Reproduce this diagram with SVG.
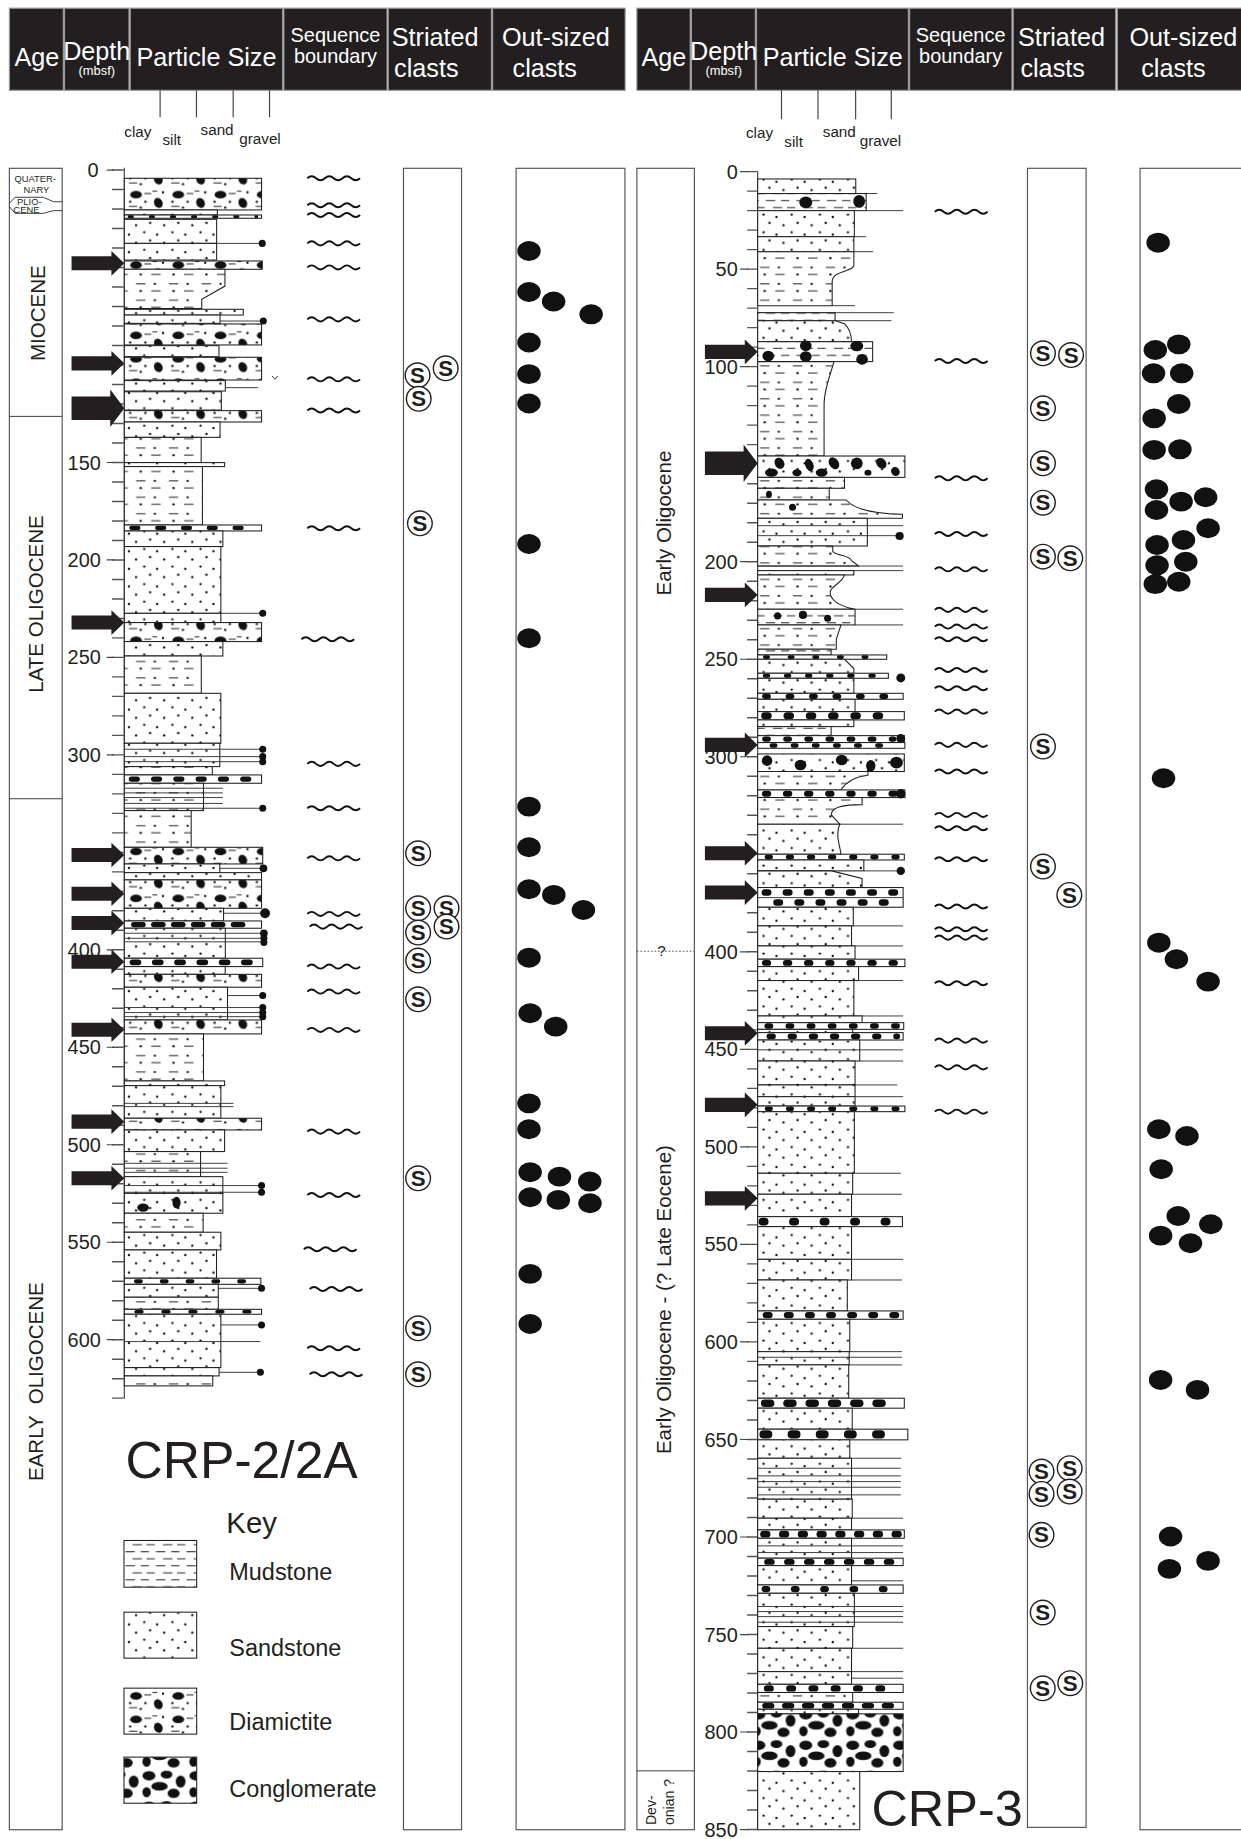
<svg xmlns="http://www.w3.org/2000/svg" xmlns:xlink="http://www.w3.org/1999/xlink" width="1241" height="1839" viewBox="0 0 1241 1839">
<style>
text{font-family:"Liberation Sans",Arial,sans-serif;fill:#231f20}
.hd{fill:#231f20;stroke:#9a9a9a;stroke-width:1}
.ht{fill:#fff;font-size:21.5px}
.hs{fill:#fff;font-size:17px}
.hm{fill:#fff;font-size:11px}
.mid{text-anchor:middle}
.end{text-anchor:end}
.box{fill:none;stroke:#555;stroke-width:1}
.bd{stroke:#231f20;stroke-width:0.9}
.S{fill:url(#sand)}.M{fill:url(#mud)}.MS{fill:url(#ms)}.D{fill:url(#diam)}.C{fill:url(#cong)}.W{fill:#fff}
.gv{stroke:#111;stroke-linecap:round;fill:none;stroke-dasharray:3 15}
.ln{stroke:#333;stroke-width:0.8;fill:none}
.dot{fill:#111}
.sc{fill:#fff;stroke:#231f20;stroke-width:1.2}
.st{font-size:19px;font-weight:bold;text-anchor:middle}
.oc{fill:#111}
.dl{font-size:17px;text-anchor:end}
.tk{stroke:#444;fill:none}
.age{font-size:17.5px;text-anchor:middle}
</style>
<defs>
<pattern id="sand" patternUnits="userSpaceOnUse" width="24" height="15">
<rect width="24" height="15" fill="#fff"/>
<g fill="#111"><circle cx="3" cy="3" r="1"/><circle cx="14" cy="5" r="1"/><circle cx="8" cy="10" r="1"/><circle cx="20" cy="12" r="1"/></g>
</pattern>
<pattern id="mud" patternUnits="userSpaceOnUse" width="26" height="12">
<rect width="26" height="12" fill="#fff"/>
<path d="M3 3h8M16 3h7M9 9h8M21 9h5M0 9h2" stroke="#111" stroke-width="0.8"/>
</pattern>
<pattern id="ms" patternUnits="userSpaceOnUse" width="28" height="14">
<rect width="28" height="14" fill="#fff"/>
<path d="M4 4h8M17 10h8" stroke="#111" stroke-width="0.8"/>
<g fill="#111"><circle cx="20" cy="4" r="1"/><circle cx="8" cy="10" r="1"/></g>
</pattern>
<pattern id="diam" patternUnits="userSpaceOnUse" width="36" height="20">
<rect width="36" height="20" fill="#fff"/>
<g fill="#111"><ellipse cx="8" cy="6" rx="5" ry="3.2"/><ellipse cx="27" cy="13" rx="3.6" ry="4.4" transform="rotate(-25 27 13)"/>
<circle cx="31" cy="4" r="1"/><circle cx="16" cy="12" r="1"/><circle cx="12" cy="17" r="1"/><circle cx="3" cy="12" r="1"/></g>
<path d="M15 5h6M2 16h7M22 3h4" stroke="#111" stroke-width="0.8"/>
</pattern>
<pattern id="cong" patternUnits="userSpaceOnUse" width="40" height="26">
<rect width="40" height="26" fill="#fff"/>
<g fill="#111"><ellipse cx="7" cy="6" rx="5.5" ry="4"/><ellipse cx="22" cy="5" rx="5" ry="3.4"/><ellipse cx="34" cy="11" rx="4.2" ry="5.2"/><ellipse cx="16" cy="15" rx="7" ry="3.6"/><ellipse cx="28" cy="21" rx="5.2" ry="4"/><ellipse cx="5" cy="20" rx="3.6" ry="4.3"/></g>
</pattern>
<path id="wv" d="M0,0 q3.75,-3.5 7.5,0 t7.5,0 t7.5,0 t7.5,0 t7.5,0 t7.5,0" fill="none" stroke="#111" stroke-width="1.6"/>
<path id="arS" d="M0,-6H34V-10.5L45,0L34,10.5V6H0Z" fill="#231f20"/>
<path id="arB" d="M0,-10H33V-16L45,0L33,16V10H0Z" fill="#231f20"/>
</defs>
<rect width="1241" height="1839" fill="#fff"/>
<g transform="scale(1.1729)">

<g id="header-left">
<rect class="hd" x="8" y="7" width="46" height="70"/>
<rect class="hd" x="55" y="7" width="55" height="70"/>
<rect class="hd" x="111" y="7" width="130" height="70"/>
<rect class="hd" x="242" y="7" width="88" height="70"/>
<rect class="hd" x="331" y="7" width="88" height="70"/>
<rect class="hd" x="420" y="7" width="113" height="70"/>
<text class="ht mid" x="31.5" y="56">Age</text>
<text class="ht mid" x="82.5" y="51">Depth</text>
<text class="hm mid" x="82.5" y="64">(mbsf)</text>
<text class="ht mid" x="176" y="56">Particle Size</text>
<text class="hs mid" x="286" y="36">Sequence</text>
<text class="hs mid" x="286" y="54">boundary</text>
<text class="ht" x="334" y="39">Striated</text>
<text class="ht" x="336" y="66">clasts</text>
<text class="ht" x="428" y="39">Out-sized</text>
<text class="ht" x="437" y="66">clasts</text>
<path class="tk" d="M136.5 77V100M167.5 77V100M198.8 77V100M229.8 77V100"/>
<g font-size="13"><text x="106" y="116.5">clay</text><text x="138.5" y="123.6">silt</text><text x="171" y="115">sand</text><text x="204" y="122.8">gravel</text></g>
</g>

<g id="header-right">
<rect class="hd" x="543" y="7" width="45.5" height="70"/>
<rect class="hd" x="589.5" y="7" width="54.5" height="70"/>
<rect class="hd" x="645" y="7" width="129.5" height="70"/>
<rect class="hd" x="775.5" y="7" width="87.3" height="70"/>
<rect class="hd" x="863.8" y="7" width="87.5" height="70"/>
<rect class="hd" x="952.6" y="7" width="110" height="70"/>
<text class="ht mid" x="566" y="56">Age</text>
<text class="ht mid" x="617" y="51">Depth</text>
<text class="hm mid" x="617" y="64">(mbsf)</text>
<text class="ht mid" x="710" y="56">Particle Size</text>
<text class="hs mid" x="819" y="36">Sequence</text>
<text class="hs mid" x="819" y="54">boundary</text>
<text class="ht" x="868" y="39">Striated</text>
<text class="ht" x="870" y="66">clasts</text>
<text class="ht" x="963" y="39">Out-sized</text>
<text class="ht" x="973" y="66">clasts</text>
<path class="tk" d="M666.3 77V101.7M697.4 77V101.7M729.5 77V101.7M759.9 77V101.7"/>
<g font-size="13"><text x="636" y="118">clay</text><text x="668.7" y="125">silt</text><text x="701.5" y="116.5">sand</text><text x="733" y="124.5">gravel</text></g>
</g>

<g id="age-left">
<rect class="box" x="8" y="143.5" width="45" height="1416.5"/>
<path class="ln" d="M8,173.5L12.8,168.2H37L45.5,172H53M8,176L12.8,181.9H37L45.5,179.6H53M8,355H53M8,681H53"/>
<g font-size="8" text-anchor="middle"><text x="30" y="155">QUATER-</text><text x="31" y="164.3">NARY</text><text x="25" y="174.6">PLIO-</text><text x="22.5" y="181.5">CENE</text></g>
<text class="age" transform="translate(38,267) rotate(-90)">MIOCENE</text>
<text class="age" transform="translate(37,515) rotate(-90)">LATE OLIGOCENE</text>
<text class="age" transform="translate(37,1178) rotate(-90)" xml:space="preserve">EARLY  OLIGOCENE</text>
</g>

<g id="depth-left">
<line x1="106" y1="143" x2="106" y2="1192.5" stroke="#444" stroke-width="1"/>
<line x1="100.5" y1="144.4" x2="100.5" y2="1193" stroke="#555" stroke-width="10" stroke-dasharray="1.2 15.42"/>
<path class="tk" d="M91 145h6M91 394.3h6M91 477.4h6M91 560.5h6M91 643.6h6M91 809.8h6M91 892.9h6M91 976h6M91 1059.1h6M91 1142.2h6"/>
<text class="dl" x="84" y="151">0</text>
<text class="dl" x="86" y="400.3">150</text>
<text class="dl" x="86" y="483.4">200</text>
<text class="dl" x="86" y="566.5">250</text>
<text class="dl" x="86" y="649.6">300</text>
<text class="dl" x="86" y="815.8">400</text>
<text class="dl" x="86" y="898.9">450</text>
<text class="dl" x="86" y="982">500</text>
<text class="dl" x="86" y="1065.1">550</text>
<text class="dl" x="86" y="1148.2">600</text>
</g>

<g id="log-left">
<rect class="bd D" x="106" y="152" width="117" height="27"/>
<rect class="bd S" x="106" y="179" width="79.3" height="4.3"/>
<rect class="bd W" x="106" y="183.3" width="117" height="2.8"/><line class="gv" x1="110" y1="184.7" x2="219" y2="184.7" stroke-width="2.2"/>
<rect class="bd S" x="106" y="187" width="78.7" height="20.5"/>
<rect class="bd S" x="106" y="207.5" width="78.7" height="14.2"/>
<path class="ln" d="M184.7 207.5H223.6"/><circle class="dot" cx="223.6" cy="207.5" r="3"/>
<rect class="bd D" x="106" y="222.5" width="117.6" height="7.1"/>
<path class="bd MS" d="M106,229.6H191.8V243.9L172,255.2V263H106Z"/>
<rect class="bd S" x="106" y="263.7" width="101.4" height="4.9"/>
<rect class="bd S" x="106" y="268.6" width="81.6" height="7.1"/>
<path class="ln" d="M187.6 273.7H224.5"/><circle class="dot" cx="224.5" cy="273.7" r="3"/>
<rect class="bd D" x="106" y="276.2" width="117" height="17.9"/>
<rect class="bd S" x="106" y="294.7" width="80.7" height="9.4"/>
<rect class="bd D" x="106" y="304.6" width="117" height="19.4"/>
<rect class="bd S" x="106" y="324.5" width="86.1" height="8.9"/>
<path class="ln" d="M192.1 330.5H220M232 320.5l2.4 3 2.4-3"/>
<rect class="bd S" x="106" y="334" width="82.7" height="15.6"/>
<rect class="bd D" x="106" y="350.1" width="117" height="9.7"/>
<rect class="bd S" x="106" y="359.8" width="81.6" height="13.1"/>
<rect class="bd MS" x="106" y="372.9" width="65.5" height="21.5"/>
<rect class="bd S" x="106" y="394.4" width="85.5" height="3.4"/>
<rect class="bd MS" x="106" y="397.8" width="66.6" height="49.8"/>
<rect class="bd W" x="106" y="447.6" width="117" height="5.1"/><line class="gv" x1="112" y1="450.15" x2="218" y2="450.15" stroke-width="3.6" style="stroke-dasharray:6 16"/>
<rect class="bd S" x="106" y="452.7" width="84" height="13.3"/>
<rect class="bd S" x="106" y="466" width="82.3" height="56.9"/>
<path class="ln" d="M188.3 522.9H224"/><circle class="dot" cx="224" cy="522.9" r="3"/>
<rect class="bd S" x="106" y="522.9" width="82.3" height="7.9"/>
<rect class="bd D" x="106" y="530.8" width="117" height="16.2"/>
<rect class="bd S" x="106" y="547" width="84" height="12.3"/>
<rect class="bd MS" x="106" y="559.3" width="65.6" height="31.8"/>
<rect class="bd S" x="106" y="591.1" width="82.3" height="42.6"/>
<rect class="bd S" x="106" y="633.7" width="81.4" height="19.9"/>
<path class="ln" d="M106 638.8H224M106 645.1H224M106 649.4H224"/>
<circle class="dot" cx="224" cy="638.8" r="3"/><circle class="dot" cx="224" cy="645.1" r="3"/><circle class="dot" cx="224" cy="649.4" r="3"/>
<rect class="bd MS" x="106" y="653.6" width="75" height="7.1"/>
<rect class="bd W" x="106" y="660.7" width="117" height="7.1"/><line class="gv" x1="112" y1="664.25" x2="218" y2="664.25" stroke-width="4.5" style="stroke-dasharray:5 14"/>
<rect class="bd MS" x="106" y="667.8" width="67.5" height="23.3"/>
<path class="ln" d="M106 672H190M106 676H190M106 680H190M106 685H190M106 689.1H224"/><circle class="dot" cx="224" cy="689.1" r="3"/>
<rect class="bd MS" x="106" y="691.1" width="57" height="31.3"/>
<rect class="bd D" x="106" y="722.4" width="118" height="14.2"/>
<rect class="bd S" x="106" y="736.6" width="81.4" height="7.4"/>
<path class="ln" d="M187.4 740.3H224.6"/><circle class="dot" cx="224.6" cy="740.3" r="3.3"/>
<rect class="bd S" x="106" y="744" width="117" height="6.2"/>
<rect class="bd D" x="106" y="750.2" width="117" height="24.2"/>
<rect class="bd S" x="106" y="774.4" width="84.6" height="10.8"/>
<path class="ln" d="M190.6 778.6H226"/><circle class="dot" cx="226" cy="778.6" r="4.2"/>
<rect class="bd W" x="106" y="785.2" width="117" height="6.2"/><line class="gv" x1="114" y1="788.3" x2="216" y2="788.3" stroke-width="4.5" style="stroke-dasharray:8 9"/>
<rect class="bd S" x="106" y="791.4" width="86.1" height="25.6"/>
<path class="ln" d="M106 795.7H225M106 800H225M106 803H225"/>
<circle class="dot" cx="225" cy="795.7" r="3.3"/><circle class="dot" cx="225" cy="800" r="3"/><circle class="dot" cx="225" cy="803.5" r="3"/>
<rect class="bd W" x="106" y="817" width="118" height="7.1"/><line class="gv" x1="113" y1="820.5" x2="218" y2="820.5" stroke-width="5" style="stroke-dasharray:5 14"/>
<rect class="bd S" x="106" y="824.1" width="86" height="6.6"/>
<rect class="bd D" x="106" y="830.7" width="117" height="11"/>
<rect class="bd S" x="106" y="841.7" width="88" height="27.9"/>
<path class="ln" d="M194 848.8H224M106 859H224M106 863.3H224M106 866.8H224"/>
<circle class="dot" cx="224" cy="848.8" r="3"/><circle class="dot" cx="224" cy="859" r="3"/><circle class="dot" cx="224" cy="863.3" r="3"/><circle class="dot" cx="224" cy="866.8" r="3"/>
<rect class="bd D" x="106" y="869.6" width="117" height="11.9"/>
<rect class="bd MS" x="106" y="881.5" width="67.5" height="40.1"/>
<rect class="bd S" x="106" y="921.6" width="85.5" height="4"/>
<rect class="bd S" x="106" y="925.6" width="82.3" height="27.8"/>
<path class="ln" d="M106 940.7H199M106 943.5H199"/>
<rect class="bd D" x="106" y="953.4" width="117" height="10"/>
<rect class="bd S" x="106" y="963.4" width="85.5" height="18.4"/>
<rect class="bd MS" x="106" y="981.8" width="65" height="21.4"/>
<path class="ln" d="M106 991.8H194M106 996H194M106 999.5H194"/>
<rect class="bd S" x="106" y="1003.2" width="84" height="14.2"/>
<path class="ln" d="M106 1010.8H223M106 1016.5H223"/><circle class="dot" cx="223" cy="1010.8" r="3"/><circle class="dot" cx="223" cy="1016.5" r="3"/>
<rect class="bd S" x="106" y="1017.4" width="84" height="17"/>
<ellipse class="oc" cx="122" cy="1029.6" rx="5" ry="3.5"/><ellipse class="oc" cx="150.5" cy="1025.3" rx="3.5" ry="5"/>
<rect class="bd MS" x="106" y="1034.4" width="67.2" height="16.2"/>
<rect class="bd S" x="106" y="1050.6" width="82.3" height="15.1"/>
<rect class="bd S" x="106" y="1065.7" width="78.6" height="24.1"/>
<rect class="bd W" x="106" y="1089.8" width="116.4" height="5.2"/><line class="gv" x1="116" y1="1092.4" x2="216" y2="1092.4" stroke-width="3.6" style="stroke-dasharray:4 18"/>
<rect class="bd S" x="106" y="1095" width="80.1" height="11"/>
<path class="ln" d="M186.1 1098.4H223"/><circle class="dot" cx="223" cy="1098.4" r="3"/>
<rect class="bd MS" x="106" y="1106" width="80.1" height="10.3"/>
<rect class="bd W" x="106" y="1116.3" width="117" height="4.2"/><line class="gv" x1="116" y1="1118.4" x2="216" y2="1118.4" stroke-width="3" style="stroke-dasharray:5 18"/>
<rect class="bd S" x="106" y="1120.5" width="82.3" height="45.5"/>
<path class="ln" d="M188.3 1129.6H223M106 1143.8H222"/><circle class="dot" cx="223" cy="1129.6" r="3"/>
<rect class="bd S" x="106" y="1166" width="80.8" height="7.1"/>
<path class="ln" d="M186.8 1170H222"/><circle class="dot" cx="222" cy="1170" r="3"/>
<rect class="bd MS" x="106" y="1173.1" width="75.4" height="8.5"/>
</g>

<g id="seq-left">
<use href="#wv" x="262" y="152"/><use href="#wv" x="262" y="175"/><use href="#wv" x="262" y="183.3"/>
<use href="#wv" x="262" y="207.5"/><use href="#wv" x="262" y="228"/><use href="#wv" x="262" y="272.3"/>
<use href="#wv" x="262" y="323.4"/><use href="#wv" x="262" y="350"/><use href="#wv" x="262" y="450.4"/>
<use href="#wv" x="257" y="545"/><use href="#wv" x="262" y="651.3"/><use href="#wv" x="262" y="689.1"/>
<use href="#wv" x="262" y="731.8"/><use href="#wv" x="262" y="779.2"/><use href="#wv" x="264" y="790"/>
<use href="#wv" x="262" y="824.1"/><use href="#wv" x="262" y="845.4"/><use href="#wv" x="262" y="878.1"/>
<use href="#wv" x="262" y="964.8"/><use href="#wv" x="262" y="1018.8"/><use href="#wv" x="259" y="1065.1"/>
<use href="#wv" x="264" y="1099"/><use href="#wv" x="262" y="1149.5"/><use href="#wv" x="264" y="1171.7"/>
</g>

<g id="striated-left">
<rect class="box" x="344" y="143.5" width="49.5" height="1416.5"/>
<circle class="sc" cx="380" cy="314" r="10.5"/><text class="st" x="380" y="320.5">S</text>
<circle class="sc" cx="356" cy="320" r="10.5"/><text class="st" x="356" y="326.5">S</text>
<circle class="sc" cx="357" cy="340" r="10.5"/><text class="st" x="357" y="346.5">S</text>
<circle class="sc" cx="358" cy="446.2" r="10.5"/><text class="st" x="358" y="452.7">S</text>
<circle class="sc" cx="356.5" cy="727.5" r="10.5"/><text class="st" x="356.5" y="734">S</text>
<circle class="sc" cx="380.7" cy="774.4" r="10.5"/><text class="st" x="380.7" y="780.9">S</text>
<circle class="sc" cx="356.5" cy="774.4" r="10.5"/><text class="st" x="356.5" y="780.9">S</text>
<circle class="sc" cx="380.7" cy="790" r="10.5"/><text class="st" x="380.7" y="796.5">S</text>
<circle class="sc" cx="356.5" cy="795.1" r="10.5"/><text class="st" x="356.5" y="801.6">S</text>
<circle class="sc" cx="356.5" cy="819" r="10.5"/><text class="st" x="356.5" y="825.5">S</text>
<circle class="sc" cx="356.5" cy="852" r="10.5"/><text class="st" x="356.5" y="858.5">S</text>
<circle class="sc" cx="356.5" cy="1004.6" r="10.5"/><text class="st" x="356.5" y="1011.1">S</text>
<circle class="sc" cx="356.5" cy="1132.5" r="10.5"/><text class="st" x="356.5" y="1139">S</text>
<circle class="sc" cx="356.5" cy="1171.7" r="10.5"/><text class="st" x="356.5" y="1178.2">S</text>
</g>

<g id="outsized-left">
<rect class="box" x="440" y="143.5" width="92.8" height="1416.5"/>
<g class="oc">
<ellipse cx="451" cy="214" rx="10" ry="8.5"/><ellipse cx="451" cy="249" rx="10" ry="8.5"/><ellipse cx="472" cy="257" rx="10" ry="8.5"/><ellipse cx="504" cy="268" rx="10" ry="8.5"/>
<ellipse cx="451" cy="292" rx="10" ry="8.5"/><ellipse cx="451" cy="319" rx="10" ry="8.5"/><ellipse cx="451" cy="344" rx="10" ry="8.5"/>
<ellipse cx="451" cy="463.8" rx="10" ry="8.5"/><ellipse cx="451" cy="544.2" rx="10" ry="8.5"/><ellipse cx="451" cy="687.7" rx="10" ry="8.5"/>
<ellipse cx="451" cy="722.4" rx="10" ry="8.5"/><ellipse cx="451" cy="758.2" rx="10" ry="8.5"/><ellipse cx="472.2" cy="763" rx="10" ry="8.5"/>
<ellipse cx="497.4" cy="775.8" rx="10" ry="8.5"/><ellipse cx="451" cy="816.5" rx="10" ry="8.5"/><ellipse cx="452" cy="863.9" rx="10" ry="8.5"/>
<ellipse cx="473.8" cy="875.3" rx="10" ry="8.5"/><ellipse cx="451" cy="940.7" rx="10" ry="8.5"/><ellipse cx="451" cy="962.8" rx="10" ry="8.5"/>
<ellipse cx="452" cy="999.5" rx="10" ry="8.5"/><ellipse cx="477" cy="1003.2" rx="10" ry="8.5"/><ellipse cx="502.8" cy="1007.4" rx="10" ry="8.5"/>
<ellipse cx="452" cy="1020.8" rx="10" ry="8.5"/><ellipse cx="476" cy="1023" rx="10" ry="8.5"/><ellipse cx="503" cy="1025.9" rx="10" ry="8.5"/>
<ellipse cx="452" cy="1086.1" rx="10" ry="8.5"/><ellipse cx="452" cy="1128.8" rx="10" ry="8.5"/>
</g>
</g>

<g id="key">
<text x="107" y="1260" font-size="44">CRP-2/2A</text>
<text x="193" y="1307" font-size="25">Key</text>
<rect class="bd M" x="105.7" y="1313.4" width="62" height="39.8"/>
<text x="195.5" y="1347" font-size="20">Mudstone</text>
<rect class="bd S" x="105.7" y="1374.5" width="62" height="39.2"/>
<text x="195.5" y="1412.3" font-size="20">Sandstone</text>
<rect class="bd D" x="105.7" y="1439.3" width="62" height="39.2"/>
<text x="195.5" y="1474.9" font-size="20">Diamictite</text>
<rect class="bd C" x="105.7" y="1498.1" width="62" height="39.3"/>
<text x="195.5" y="1531.7" font-size="20">Conglomerate</text>
</g>

<g id="age-right">
<rect class="box" x="543" y="143.5" width="49" height="1416.5"/>
<path class="ln" d="M543 1509.8H592"/>
<path d="M543 811H592" stroke="#555" stroke-width="0.8" stroke-dasharray="1.5 1.5"/>
<text x="564" y="815.5" font-size="13" text-anchor="middle">?</text>
<text class="age" transform="translate(572,446) rotate(-90)">Early Oligocene</text>
<text class="age" transform="translate(572,1108) rotate(-90)">Early Oligocene - (? Late Eocene)</text>
<text font-size="12" transform="translate(559.5,1556) rotate(-90)">Dev-</text>
<text font-size="12" transform="translate(574.5,1556) rotate(-90)">onian ?</text>
</g>

<g id="depth-right">
<line x1="646" y1="146" x2="646" y2="1560" stroke="#444" stroke-width="1"/>
<line x1="641.5" y1="145.7" x2="641.5" y2="1561" stroke="#555" stroke-width="9" stroke-dasharray="1.2 15.43"/>
<path class="tk" d="M631 146.3h7M631 229.5h7M631 312.6h7M631 395.8h7M631 478.9h7M631 562.1h7M631 645.2h7M631 811.5h7M631 894.7h7M631 977.8h7M631 1061h7M631 1144.1h7M631 1227.3h7M631 1310.4h7M631 1393.6h7M631 1476.7h7M631 1559.9h7"/>
<text class="dl" x="629" y="152.3">0</text>
<text class="dl" x="629" y="235.5">50</text>
<text class="dl" x="629" y="318.6">100</text>
<text class="dl" x="629" y="401.8">150</text>
<text class="dl" x="629" y="484.9">200</text>
<text class="dl" x="629" y="568.1">250</text>
<text class="dl" x="629" y="651.2">300</text>
<text class="dl" x="629" y="817.5">400</text>
<text class="dl" x="629" y="900.7">450</text>
<text class="dl" x="629" y="983.8">500</text>
<text class="dl" x="629" y="1067">550</text>
<text class="dl" x="629" y="1150.1">600</text>
<text class="dl" x="629" y="1233.3">650</text>
<text class="dl" x="629" y="1316.4">700</text>
<text class="dl" x="629" y="1399.6">750</text>
<text class="dl" x="629" y="1482.7">800</text>
<text class="dl" x="629" y="1565.9">850</text>
</g>

<g id="log-right">
<rect class="bd S" x="646" y="152.6" width="83.6" height="12.4"/>
<path class="ln" d="M729.6 165H748"/>
<rect class="bd M" x="646" y="165" width="92.5" height="14.6"/>
<ellipse class="oc" cx="687" cy="172.5" rx="5.5" ry="5"/><ellipse class="oc" cx="732.5" cy="171.7" rx="5" ry="5.5"/>
<path class="ln" d="M738.5 179.6H770"/>
<rect class="bd S" x="646" y="179.6" width="82.4" height="22.2"/>
<path class="ln" d="M728.4 201.8H738.5"/>
<rect class="bd S" x="646" y="201.8" width="82" height="12.8"/>
<path class="ln" d="M728 214.6H744.5"/>
<path class="bd MS" d="M646,214.6H728V226C728,232 710,230 709.5,240V260.6H646Z"/>
<path class="ln" d="M709.5 260.6H729M646 266.6H762M646 273.4H760"/>
<rect class="bd M" x="646" y="266.6" width="66" height="6.8"/>
<path class="bd S" d="M646,273.4H712L720,276C724,280 726,285 726,291.3H646Z"/>
<rect class="bd M" x="646" y="291.3" width="98" height="17"/>
<g class="oc"><ellipse cx="655" cy="303.5" rx="5" ry="4.5"/><ellipse cx="687" cy="294.7" rx="5" ry="4.5"/><ellipse cx="687" cy="304" rx="5" ry="4.5"/><ellipse cx="730.5" cy="295" rx="5.5" ry="4.5"/><ellipse cx="735" cy="306.4" rx="5" ry="4.5"/></g>
<path class="bd MS" d="M646,308.3H711C708,320 703,330 702.6,343.9V388.8H646Z"/>
<rect class="bd S" x="646" y="388.8" width="125.5" height="18.2"/>
<g class="oc"><ellipse cx="664.6" cy="395" rx="4" ry="5" transform="rotate(-30 664.6 395)"/><ellipse cx="690" cy="396.4" rx="3.5" ry="5.5" transform="rotate(-20 690 396.4)"/><ellipse cx="711" cy="395" rx="4" ry="5.5" transform="rotate(-35 711 395)"/><ellipse cx="730.5" cy="395" rx="5" ry="5"/><ellipse cx="751.4" cy="395" rx="4" ry="5" transform="rotate(-40 751.4 395)"/>
<ellipse cx="657.7" cy="403" rx="5.5" ry="3.5"/><ellipse cx="679.5" cy="403" rx="4" ry="3"/><ellipse cx="700.5" cy="403" rx="5" ry="3.5"/><ellipse cx="763.4" cy="402" rx="3.5" ry="4" transform="rotate(-40 763.4 402)"/><ellipse cx="740" cy="403" rx="3" ry="2.5"/></g>
<rect class="bd MS" x="646" y="407" width="74" height="9.3"/>
<rect class="bd MS" x="646" y="416.3" width="61" height="10"/>
<ellipse class="oc" cx="655.6" cy="421.5" rx="2.5" ry="3"/>
<path class="bd MS" d="M646,426.3H721.5C728,434 745,438 769.4,438.5V441.9H646Z"/>
<circle class="oc" cx="675.7" cy="432.5" r="3"/>
<rect class="bd S" x="646" y="441.9" width="93.5" height="23.6"/>
<path class="ln" d="M646 448.2H770M646 456.7H765"/><circle class="dot" cx="767" cy="457" r="3.5"/>
<path class="bd MS" d="M646,465.5H710V470C712,474 724,473 726,478L732,482.6H646Z"/>
<path class="ln" d="M646 482.6H770M646 486.5H770"/>
<rect class="bd S" x="646" y="486.5" width="82" height="3.7"/>
<path class="bd MS" d="M646,490.2H720C718,498 706,500 708,507C710,514 720,518 729,519.4H646Z"/>
<path class="ln" d="M729 519.4H770"/>
<rect class="bd M" x="646" y="519.4" width="83" height="13.4"/>
<g class="oc"><circle cx="663" cy="525.1" r="3"/><circle cx="684.6" cy="524.3" r="3.5"/><circle cx="705.6" cy="527.1" r="3"/></g>
<path class="ln" d="M729 532.8H770"/>
<path class="bd MS" d="M646,532.8H717L713,545V553.5H646Z"/>
<rect class="bd M" x="646" y="553.5" width="62.6" height="4.9"/>
<rect class="bd W" x="646" y="558.4" width="110" height="3.7"/><line class="gv" x1="652" y1="560.25" x2="751" y2="560.25" stroke-width="3" style="stroke-dasharray:3 18"/>
<path class="bd S" d="M646,562.1H720L728,570V574H646Z"/>
<rect class="bd W" x="646" y="574" width="111.4" height="4.3"/><line class="gv" x1="652" y1="576.15" x2="752" y2="576.15" stroke-width="3.4"/>
<circle class="dot" cx="768" cy="578" r="3.8"/>
<rect class="bd S" x="646" y="578.3" width="82" height="12.8"/>
<rect class="bd W" x="646" y="591.1" width="124" height="5.1"/><line class="gv" x1="652" y1="593.65" x2="765" y2="593.65" stroke-width="4.5" style="stroke-dasharray:3 17"/>
<rect class="bd S" x="646" y="596.2" width="83" height="10.5"/>
<rect class="bd W" x="646" y="606.7" width="125" height="7.1"/><line class="gv" x1="652" y1="610.25" x2="766" y2="610.25" stroke-width="6" style="stroke-dasharray:3 16"/>
<rect class="bd S" x="646" y="613.8" width="82" height="5.7"/>
<rect class="bd M" x="646" y="619.5" width="62.6" height="7.7"/>
<rect class="bd W" x="646" y="627.2" width="125" height="5.9"/><line class="gv" x1="652" y1="630.15" x2="762" y2="630.15" stroke-width="4.5"/>
<circle class="dot" cx="768" cy="629.6" r="3.8"/>
<rect class="bd W" x="646" y="633.1" width="125.5" height="4.9"/><line class="gv" x1="658" y1="635.55" x2="766" y2="635.55" stroke-width="3.8"/>
<rect class="bd S" x="646" y="642.8" width="125" height="15"/>
<g class="oc"><ellipse cx="654" cy="648.5" rx="4.5" ry="4.5"/><ellipse cx="682.5" cy="652.2" rx="5" ry="4.5"/><ellipse cx="717.6" cy="647.9" rx="5" ry="4.5"/><ellipse cx="742.4" cy="653" rx="4" ry="5"/><ellipse cx="764.3" cy="650.2" rx="5.5" ry="5"/></g>
<path class="bd MS" d="M646,657.8H740V661C730,662 722,666 717,673.5H646Z"/>
<rect class="bd W" x="646" y="673.5" width="125.5" height="6.5"/><line class="gv" x1="652" y1="676.75" x2="764" y2="676.75" stroke-width="5"/>
<circle class="dot" cx="768" cy="676.7" r="4"/>
<path class="bd MS" d="M646,680H735V686C720,686 708,688 709,695L716,702.7H646Z"/>
<path class="ln" d="M716 702.7H770"/>
<path class="bd S" d="M646,702.7H716C712,712 716,720 717,728.3H646Z"/>
<rect class="bd W" x="646" y="728.3" width="125" height="4.9"/><line class="gv" x1="654" y1="730.75" x2="766" y2="730.75" stroke-width="4.2"/>
<rect class="bd S" x="646" y="733.2" width="90.5" height="9.3"/>
<path class="ln" d="M736.5 742.5H768"/><circle class="dot" cx="768" cy="742.5" r="3.6"/>
<path class="bd S" d="M646,742.5H709L735,749V756.7H646Z"/>
<rect class="bd W" x="646" y="756.7" width="124" height="16.8"/>
<line class="gv" x1="652" y1="761" x2="765" y2="761" stroke-width="5.5"/><line class="gv" x1="662" y1="769.4" x2="765" y2="769.4" stroke-width="5.5"/>
<path class="ln" d="M646 765.3H770"/>
<rect class="bd S" x="646" y="773.5" width="81.5" height="15.9"/>
<path class="ln" d="M727.5 789.4H770"/>
<rect class="bd S" x="646" y="789.4" width="80" height="17.1"/>
<path class="ln" d="M726 806.5H770"/>
<rect class="bd S" x="646" y="806.5" width="83" height="11.3"/>
<rect class="bd W" x="646" y="817.8" width="125.5" height="6.3"/><line class="gv" x1="652" y1="820.95" x2="766" y2="820.95" stroke-width="5"/>
<rect class="bd S" x="646" y="824.1" width="86" height="11.9"/>
<path class="ln" d="M732 836H770"/>
<rect class="bd S" x="646" y="836" width="82" height="30.2"/>
<path class="ln" d="M728 866.2H770"/>
<rect class="bd S" x="646" y="866.2" width="89" height="5.7"/>
<rect class="bd W" x="646" y="871.9" width="124.5" height="5.7"/><line class="gv" x1="654" y1="874.75" x2="765" y2="874.75" stroke-width="4.5"/>
<rect class="bd S" x="646" y="877.6" width="81" height="2.8"/>
<rect class="bd W" x="646" y="880.4" width="124" height="6.3"/><line class="gv" x1="656" y1="883.55" x2="765" y2="883.55" stroke-width="5"/>
<rect class="bd S" x="646" y="886.7" width="87" height="17.9"/>
<path class="ln" d="M646 895.1H770M733 904.6H770"/>
<rect class="bd S" x="646" y="904.6" width="83" height="20.4"/>
<path class="ln" d="M729 925H765"/>
<rect class="bd S" x="646" y="925" width="83" height="10"/>
<path class="ln" d="M729 935H770"/>
<rect class="bd S" x="646" y="935" width="83" height="8"/>
<rect class="bd W" x="646" y="943" width="125.5" height="4.8"/><line class="gv" x1="654" y1="945.4" x2="766" y2="945.4" stroke-width="4"/>
<rect class="bd S" x="646" y="947.8" width="82.4" height="52.5"/>
<path class="ln" d="M728.4 1000.3H768"/>
<rect class="bd S" x="646" y="1000.3" width="81" height="17.9"/>
<path class="ln" d="M727 1018.2H769"/>
<rect class="bd S" x="646" y="1018.2" width="80" height="19.1"/>
<rect class="bd W" x="646" y="1037.3" width="123.4" height="8.5"/><line class="gv" x1="650" y1="1041.55" x2="764" y2="1041.55" stroke-width="6.5" style="stroke-dasharray:2 24"/>
<rect class="bd S" x="646" y="1045.8" width="80" height="27.9"/>
<path class="ln" d="M726 1073.7H770"/>
<rect class="bd S" x="646" y="1073.7" width="80" height="17.6"/>
<path class="ln" d="M726 1091.3H769"/>
<rect class="bd S" x="646" y="1091.3" width="76.4" height="26.4"/>
<rect class="bd W" x="646" y="1117.7" width="124" height="7.1"/><line class="gv" x1="653" y1="1121.25" x2="765" y2="1121.25" stroke-width="5.5"/>
<rect class="bd S" x="646" y="1124.8" width="78.5" height="27.6"/>
<rect class="bd S" x="646" y="1152.4" width="78" height="11.3"/>
<path class="ln" d="M724.5 1152.4H769M646 1157.2H769M724 1163.7H769"/>
<rect class="bd S" x="646" y="1163.7" width="77.6" height="28.4"/>
<rect class="bd W" x="646" y="1192.1" width="125" height="8.5"/><line class="gv" x1="652" y1="1196.35" x2="766" y2="1196.35" stroke-width="6.5" style="stroke-dasharray:5 14"/>
<rect class="bd S" x="646" y="1200.6" width="80.6" height="17.9"/>
<rect class="bd W" x="646" y="1218.5" width="128" height="9.1"/><line class="gv" x1="651" y1="1223" x2="768" y2="1223" stroke-width="7" style="stroke-dasharray:4 20"/>
<rect class="bd S" x="646" y="1227.6" width="78.5" height="15.7"/>
<path class="ln" d="M724.5 1243.3H768.5"/>
<rect class="bd S" x="646" y="1243.3" width="80" height="34.9"/>
<path class="ln" d="M646 1251.8H768M646 1258.3H768M646 1263.2H768M646 1268H768M646 1274.5H768"/>
<rect class="bd S" x="646" y="1278.2" width="80.6" height="16.2"/>
<path class="ln" d="M726.6 1294.4H770"/>
<rect class="bd S" x="646" y="1294.4" width="80" height="10"/>
<rect class="bd W" x="646" y="1304.4" width="125" height="7.1"/><line class="gv" x1="651" y1="1308" x2="767" y2="1308" stroke-width="5.8" style="stroke-dasharray:3 13"/>
<rect class="bd S" x="646" y="1311.5" width="80" height="17"/>
<path class="ln" d="M646 1318H770M646 1323.7H770"/>
<rect class="bd W" x="646" y="1328.5" width="124" height="6.3"/><line class="gv" x1="654" y1="1331.65" x2="766" y2="1331.65" stroke-width="5" style="stroke-dasharray:4 13"/>
<rect class="bd S" x="646" y="1334.8" width="80" height="16.5"/>
<path class="ln" d="M726 1347.8H770"/>
<rect class="bd W" x="646" y="1351.3" width="124" height="7.1"/><line class="gv" x1="652" y1="1354.85" x2="766" y2="1354.85" stroke-width="5.5" style="stroke-dasharray:2 23"/>
<rect class="bd S" x="646" y="1358.4" width="82.4" height="28.4"/>
<path class="ln" d="M646 1369.7H770M646 1374H770M646 1378.3H770M646 1383.1H770"/>
<rect class="bd S" x="646" y="1386.8" width="81" height="18.5"/>
<path class="ln" d="M727 1405.3H770"/>
<rect class="bd S" x="646" y="1405.3" width="80" height="19.9"/>
<path class="ln" d="M726 1425.2H770"/>
<rect class="bd S" x="646" y="1425.2" width="80" height="10.8"/>
<path class="ln" d="M726 1430.8H770"/>
<rect class="bd W" x="646" y="1436" width="124" height="7"/><line class="gv" x1="654" y1="1439.5" x2="766" y2="1439.5" stroke-width="5.5" style="stroke-dasharray:3 16"/>
<rect class="bd MS" x="646" y="1443" width="81" height="8.3"/>
<rect class="bd W" x="646" y="1451.3" width="124" height="6"/><line class="gv" x1="652" y1="1454.3" x2="764" y2="1454.3" stroke-width="4.5" style="stroke-dasharray:6 11"/>
<rect class="bd S" x="646" y="1457.3" width="86" height="3.9"/>
<rect class="bd C" x="646" y="1461.2" width="124" height="49.2"/>
<rect class="bd S" x="646" y="1510.4" width="87" height="49.6"/>
</g>

<g id="seq-right">
<use href="#wv" x="797" y="180.5"/><use href="#wv" x="797" y="307.8"/><use href="#wv" x="797" y="407.8"/>
<use href="#wv" x="797" y="455.3"/><use href="#wv" x="797" y="485.4"/><use href="#wv" x="797" y="520"/>
<use href="#wv" x="797" y="534.2"/><use href="#wv" x="797" y="545"/><use href="#wv" x="797" y="571.2"/>
<use href="#wv" x="797" y="586.8"/><use href="#wv" x="797" y="606.7"/><use href="#wv" x="797" y="635.1"/>
<use href="#wv" x="797" y="657.8"/><use href="#wv" x="797" y="694.8"/><use href="#wv" x="797" y="706.2"/>
<use href="#wv" x="797" y="732.6"/><use href="#wv" x="797" y="772.9"/><use href="#wv" x="797" y="792.3"/>
<use href="#wv" x="797" y="799.4"/><use href="#wv" x="797" y="838.3"/><use href="#wv" x="797" y="887.2"/>
<use href="#wv" x="797" y="910"/><use href="#wv" x="797" y="947.8"/>
</g>

<g id="striated-right">
<rect class="box" x="876" y="143.5" width="50" height="1414.5"/>
<circle class="sc" cx="889.2" cy="301.2" r="10.5"/><text class="st" x="889.2" y="307.7">S</text>
<circle class="sc" cx="913.2" cy="302.7" r="10.5"/><text class="st" x="913.2" y="309.2">S</text>
<circle class="sc" cx="889.2" cy="348.1" r="10.5"/><text class="st" x="889.2" y="354.6">S</text>
<circle class="sc" cx="889.2" cy="395" r="10.5"/><text class="st" x="889.2" y="401.5">S</text>
<circle class="sc" cx="889.2" cy="428.6" r="10.5"/><text class="st" x="889.2" y="435.1">S</text>
<circle class="sc" cx="889.2" cy="474.6" r="10.5"/><text class="st" x="889.2" y="481.1">S</text>
<circle class="sc" cx="912.5" cy="476" r="10.5"/><text class="st" x="912.5" y="482.5">S</text>
<circle class="sc" cx="889.2" cy="636.5" r="10.5"/><text class="st" x="889.2" y="643">S</text>
<circle class="sc" cx="889.2" cy="738.8" r="10.5"/><text class="st" x="889.2" y="745.3">S</text>
<circle class="sc" cx="911.7" cy="763" r="10.5"/><text class="st" x="911.7" y="769.5">S</text>
<circle class="sc" cx="912" cy="1251.8" r="10.5"/><text class="st" x="912" y="1258.3">S</text>
<circle class="sc" cx="888" cy="1254.6" r="10.5"/><text class="st" x="888" y="1261.1">S</text>
<circle class="sc" cx="912" cy="1271.7" r="10.5"/><text class="st" x="912" y="1278.2">S</text>
<circle class="sc" cx="888" cy="1273.7" r="10.5"/><text class="st" x="888" y="1280.2">S</text>
<circle class="sc" cx="888" cy="1308.6" r="10.5"/><text class="st" x="888" y="1315.1">S</text>
<circle class="sc" cx="889" cy="1374.8" r="10.5"/><text class="st" x="889" y="1381.3">S</text>
<circle class="sc" cx="912.5" cy="1435.1" r="10.5"/><text class="st" x="912.5" y="1441.6">S</text>
<circle class="sc" cx="889" cy="1439.4" r="10.5"/><text class="st" x="889" y="1445.9">S</text>
</g>

<g id="outsized-right">
<rect class="box" x="972" y="143.5" width="100" height="1416.5"/>
<g class="oc">
<ellipse cx="987.4" cy="206.9" rx="10" ry="8.5"/><ellipse cx="985" cy="298.4" rx="10" ry="8.5"/><ellipse cx="1005" cy="293.6" rx="10" ry="8.5"/>
<ellipse cx="983.5" cy="318.3" rx="10" ry="8.5"/><ellipse cx="1007.5" cy="318.3" rx="10" ry="8.5"/><ellipse cx="984" cy="356.7" rx="10" ry="8.5"/>
<ellipse cx="1005" cy="344.4" rx="10" ry="8.5"/><ellipse cx="984" cy="383.6" rx="10" ry="8.5"/><ellipse cx="1006" cy="383.1" rx="10" ry="8.5"/>
<ellipse cx="986" cy="417.2" rx="10" ry="8.5"/><ellipse cx="1007" cy="427.7" rx="10" ry="8.5"/><ellipse cx="1027.9" cy="424" rx="10" ry="8.5"/>
<ellipse cx="986" cy="434.8" rx="10" ry="8.5"/><ellipse cx="1030" cy="450.4" rx="10" ry="8.5"/><ellipse cx="986.5" cy="464.6" rx="10" ry="8.5"/>
<ellipse cx="1009" cy="460.4" rx="10" ry="8.5"/><ellipse cx="986.5" cy="482" rx="10" ry="8.5"/><ellipse cx="1011" cy="478.9" rx="10" ry="8.5"/>
<ellipse cx="985" cy="498" rx="10" ry="8.5"/><ellipse cx="1005" cy="496" rx="10" ry="8.5"/>
<ellipse cx="992" cy="663.5" rx="10" ry="8.5"/><ellipse cx="988" cy="803.7" rx="10" ry="8.5"/><ellipse cx="1003" cy="817.8" rx="10" ry="8.5"/>
<ellipse cx="1030" cy="836.9" rx="10" ry="8.5"/><ellipse cx="988" cy="962.8" rx="10" ry="8.5"/><ellipse cx="1012" cy="968.5" rx="10" ry="8.5"/>
<ellipse cx="990" cy="996.9" rx="10" ry="8.5"/><ellipse cx="1004.5" cy="1036.7" rx="10" ry="8.5"/><ellipse cx="1032.3" cy="1043.8" rx="10" ry="8.5"/>
<ellipse cx="989.5" cy="1053.5" rx="10" ry="8.5"/><ellipse cx="1015" cy="1060" rx="10" ry="8.5"/><ellipse cx="989.5" cy="1176.5" rx="10" ry="8.5"/>
<ellipse cx="1021" cy="1185" rx="10" ry="8.5"/><ellipse cx="998" cy="1310" rx="10" ry="8.5"/><ellipse cx="997" cy="1337.6" rx="10" ry="8.5"/>
<ellipse cx="1030" cy="1330.8" rx="10" ry="8.5"/>
</g>
</g>

<text id="title-right" x="743" y="1557" font-size="43">CRP-3</text>

<g id="connectors">
<use href="#arS" x="61" y="224.5"/><use href="#arS" x="61" y="309.8"/><use href="#arB" x="61" y="348"/>
<use href="#arS" x="61" y="530.8"/><use href="#arS" x="61" y="729"/><use href="#arS" x="61" y="762"/>
<use href="#arS" x="61" y="787"/><use href="#arS" x="61" y="820"/><use href="#arS" x="61" y="878"/>
<use href="#arS" x="61" y="956.3"/><use href="#arS" x="61" y="1004.6"/>
<use href="#arS" x="601" y="300"/><use href="#arB" x="601" y="395"/><use href="#arS" x="601" y="507.2"/>
<use href="#arS" x="601" y="635.1"/><use href="#arS" x="601" y="727.5"/><use href="#arS" x="601" y="761"/>
<use href="#arS" x="601" y="881"/><use href="#arS" x="601" y="942"/><use href="#arS" x="601" y="1021.7"/>
</g>
</g>
</svg>
